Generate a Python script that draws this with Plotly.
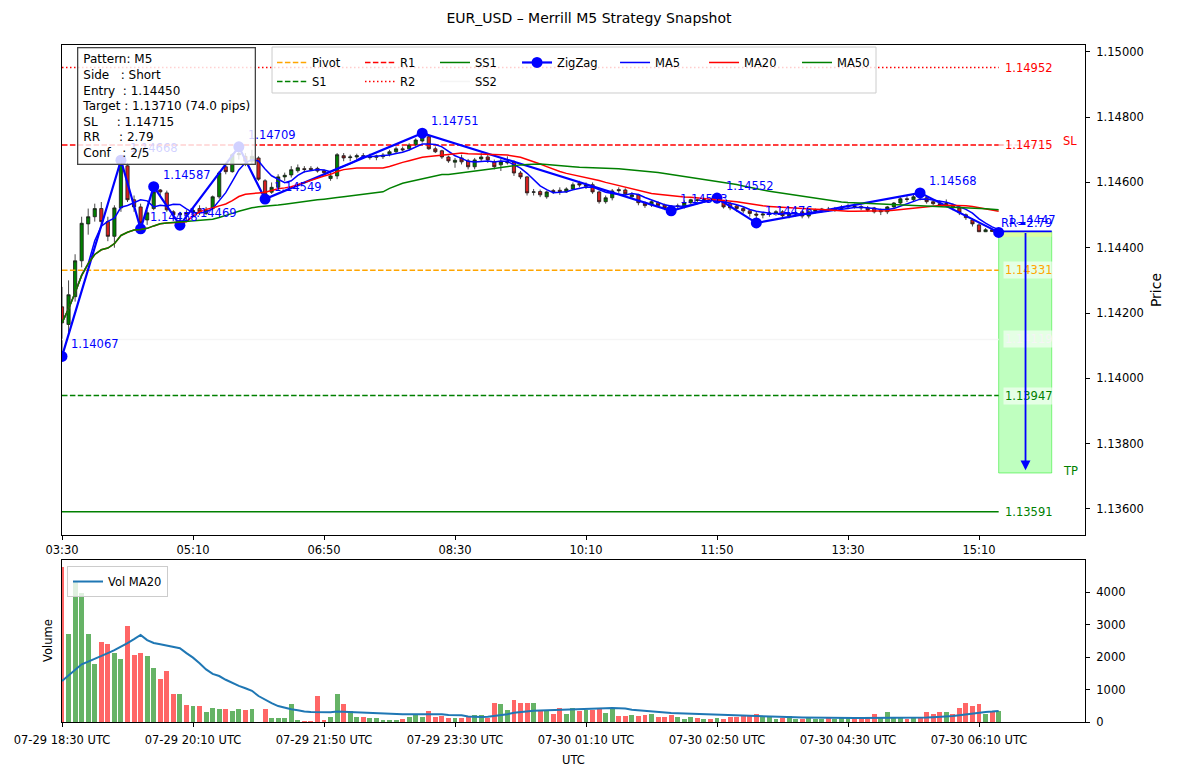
import pandas as pd
import plotly.graph_objects as go

# ---------------- data ----------------
local_start = "2025-07-30 03:30"   # top axis (local clock)
utc_start = "2025-07-29 18:30"     # volume axis (UTC)
n_bars = 144

opens = [1.14219, 1.14165, 1.14250, 1.14360, 1.14473, 1.14495, 1.14520, 1.14480, 1.14435, 1.14522,
         1.14651, 1.14547, 1.14525, 1.14485, 1.14520, 1.14577, 1.14568, 1.14510, 1.14501, 1.14508,
         1.14508, 1.14520, 1.14505, 1.14520, 1.14556, 1.14648, 1.14633, 1.14685, 1.14680, 1.14665,
         1.14675, 1.14605, 1.14570, 1.14585, 1.14617, 1.14623, 1.14636, 1.14642, 1.14643, 1.14643,
         1.14636, 1.14612, 1.14620, 1.14682, 1.14676, 1.14678, 1.14682, 1.14676, 1.14677, 1.14679,
         1.14686, 1.14694, 1.14703, 1.14703, 1.14715, 1.14727, 1.14740, 1.14703, 1.14697, 1.14678,
         1.14662, 1.14675, 1.14666, 1.14648, 1.14672, 1.14678, 1.14663, 1.14654, 1.14660, 1.14663,
         1.14629, 1.14617, 1.14570, 1.14572, 1.14556, 1.14575, 1.14576, 1.14571, 1.14580, 1.14597,
         1.14588, 1.14593, 1.14571, 1.14541, 1.14553, 1.14578, 1.14577, 1.14556, 1.14562, 1.14538,
         1.14531, 1.14538, 1.14531, 1.14527, 1.14526, 1.14525, 1.14538, 1.14547, 1.14545, 1.14548,
         1.14538, 1.14541, 1.14535, 1.14528, 1.14520, 1.14513, 1.14503, 1.14500, 1.14503, 1.14506,
         1.14510, 1.14498, 1.14503, 1.14510, 1.14497, 1.14512, 1.14515, 1.14518, 1.14516, 1.14520,
         1.14525, 1.14528, 1.14526, 1.14522, 1.14522, 1.14510, 1.14510, 1.14525, 1.14537, 1.14550,
         1.14547, 1.14556, 1.14553, 1.14541, 1.14535, 1.14532, 1.14531, 1.14522, 1.14501, 1.14485,
         1.14470, 1.14449, 1.14455, 1.14448]
highs = [1.14280, 1.14300, 1.14380, 1.14495, 1.14520, 1.14535, 1.14540, 1.14495, 1.14530, 1.14668,
         1.14660, 1.14560, 1.14535, 1.14515, 1.14587, 1.14580, 1.14575, 1.14515, 1.14510, 1.14515,
         1.14520, 1.14530, 1.14525, 1.14560, 1.14635, 1.14660, 1.14690, 1.14709, 1.14690, 1.14700,
         1.14680, 1.14610, 1.14600, 1.14625, 1.14630, 1.14650, 1.14655, 1.14650, 1.14650, 1.14648,
         1.14640, 1.14630, 1.14690, 1.14690, 1.14685, 1.14688, 1.14690, 1.14688, 1.14685, 1.14690,
         1.14700, 1.14710, 1.14710, 1.14720, 1.14735, 1.14751, 1.14745, 1.14710, 1.14700, 1.14682,
         1.14675, 1.14685, 1.14672, 1.14675, 1.14690, 1.14685, 1.14670, 1.14672, 1.14680, 1.14668,
         1.14635, 1.14620, 1.14580, 1.14578, 1.14575, 1.14580, 1.14585, 1.14585, 1.14600, 1.14605,
         1.14600, 1.14600, 1.14575, 1.14560, 1.14580, 1.14585, 1.14582, 1.14570, 1.14565, 1.14542,
         1.14545, 1.14542, 1.14535, 1.14530, 1.14535, 1.14545, 1.14550, 1.14550, 1.14550, 1.14550,
         1.14552, 1.14545, 1.14540, 1.14532, 1.14525, 1.14518, 1.14510, 1.14510, 1.14512, 1.14515,
         1.14515, 1.14508, 1.14512, 1.14515, 1.14515, 1.14520, 1.14522, 1.14525, 1.14525, 1.14530,
         1.14535, 1.14535, 1.14532, 1.14528, 1.14525, 1.14520, 1.14528, 1.14540, 1.14555, 1.14558,
         1.14565, 1.14568, 1.14558, 1.14545, 1.14545, 1.14548, 1.14535, 1.14525, 1.14505, 1.14490,
         1.14475, 1.14460, 1.14458, 1.14455]
lows = [1.14067, 1.14140, 1.14235, 1.14340, 1.14440, 1.14480, 1.14470, 1.14420, 1.14400, 1.14510,
        1.14540, 1.14510, 1.14458, 1.14470, 1.14515, 1.14560, 1.14510, 1.14490, 1.14469, 1.14485,
        1.14495, 1.14500, 1.14500, 1.14515, 1.14550, 1.14625, 1.14630, 1.14670, 1.14650, 1.14655,
        1.14605, 1.14549, 1.14565, 1.14580, 1.14605, 1.14615, 1.14630, 1.14630, 1.14635, 1.14630,
        1.14620, 1.14605, 1.14610, 1.14665, 1.14665, 1.14670, 1.14672, 1.14670, 1.14668, 1.14672,
        1.14680, 1.14690, 1.14695, 1.14698, 1.14710, 1.14722, 1.14700, 1.14690, 1.14672, 1.14660,
        1.14645, 1.14655, 1.14640, 1.14640, 1.14665, 1.14660, 1.14640, 1.14635, 1.14655, 1.14620,
        1.14610, 1.14560, 1.14560, 1.14555, 1.14550, 1.14565, 1.14562, 1.14568, 1.14577, 1.14585,
        1.14580, 1.14565, 1.14535, 1.14535, 1.14545, 1.14568, 1.14560, 1.14552, 1.14530, 1.14522,
        1.14525, 1.14525, 1.14515, 1.14513, 1.14518, 1.14520, 1.14533, 1.14540, 1.14538, 1.14540,
        1.14535, 1.14520, 1.14515, 1.14510, 1.14505, 1.14495, 1.14476, 1.14490, 1.14495, 1.14498,
        1.14492, 1.14490, 1.14495, 1.14490, 1.14490, 1.14505, 1.14508, 1.14510, 1.14510, 1.14515,
        1.14518, 1.14520, 1.14515, 1.14510, 1.14505, 1.14500, 1.14503, 1.14520, 1.14533, 1.14540,
        1.14542, 1.14545, 1.14535, 1.14530, 1.14528, 1.14525, 1.14515, 1.14500, 1.14485, 1.14465,
        1.14448, 1.14448, 1.14448, 1.14447]
closes = [1.14170, 1.14256, 1.14360, 1.14475, 1.14495, 1.14520, 1.14480, 1.14435, 1.14522, 1.14663,
          1.14547, 1.14525, 1.14476, 1.14507, 1.14571, 1.14571, 1.14516, 1.14501, 1.14505, 1.14503,
          1.14514, 1.14510, 1.14515, 1.14556, 1.14629, 1.14633, 1.14685, 1.14688, 1.14665, 1.14680,
          1.14610, 1.14562, 1.14585, 1.14617, 1.14622, 1.14639, 1.14645, 1.14640, 1.14640, 1.14635,
          1.14630, 1.14620, 1.14685, 1.14675, 1.14678, 1.14682, 1.14680, 1.14680, 1.14681, 1.14684,
          1.14694, 1.14703, 1.14700, 1.14715, 1.14730, 1.14740, 1.14703, 1.14694, 1.14678, 1.14666,
          1.14668, 1.14663, 1.14648, 1.14669, 1.14678, 1.14669, 1.14648, 1.14663, 1.14663, 1.14629,
          1.14617, 1.14568, 1.14571, 1.14562, 1.14571, 1.14572, 1.14572, 1.14580, 1.14593, 1.14592,
          1.14592, 1.14571, 1.14541, 1.14553, 1.14574, 1.14575, 1.14565, 1.14562, 1.14538, 1.14529,
          1.14541, 1.14529, 1.14522, 1.14520, 1.14528, 1.14538, 1.14547, 1.14545, 1.14548, 1.14544,
          1.14548, 1.14525, 1.14522, 1.14520, 1.14513, 1.14505, 1.14500, 1.14503, 1.14506, 1.14510,
          1.14498, 1.14503, 1.14505, 1.14497, 1.14510, 1.14515, 1.14518, 1.14516, 1.14520, 1.14525,
          1.14528, 1.14526, 1.14522, 1.14515, 1.14510, 1.14513, 1.14525, 1.14537, 1.14550, 1.14548,
          1.14556, 1.14553, 1.14541, 1.14535, 1.14532, 1.14535, 1.14522, 1.14507, 1.14492, 1.14473,
          1.14449, 1.14455, 1.14450, 1.14450]
volumes = [4770, 2700, 4320, 3980, 2700, 1775, 2470, 2390, 2135, 1930,
           2955, 2060, 2135, 2030, 1650, 1315, 1570, 850, 850, 515,
           485, 485, 300, 420, 390, 390, 340, 390, 370, 390,
           10, 390, 135, 135, 110, 545, 60, 30, 30, 810,
           60, 150, 850, 545, 340, 150, 150, 110, 110, 70,
           60, 60, 90, 150, 240, 150, 340, 150, 175, 120,
           110, 120, 150, 205, 205, 135, 575, 545, 370, 680,
           575, 575, 575, 340, 340, 240, 420, 240, 420, 340,
           370, 370, 420, 265, 420, 175, 175, 205, 175, 205,
           240, 150, 150, 205, 150, 90, 150, 110, 90, 90,
           120, 90, 150, 150, 195, 195, 240, 150, 195, 90,
           135, 175, 90, 90, 135, 90, 90, 135, 90, 135,
           135, 90, 135, 135, 260, 135, 300, 135, 135, 90,
           135, 150, 300, 240, 300, 300, 260, 445, 600, 480,
           560, 250, 340, 340]
vol_ma20 = [1260, 1430, 1600, 1775, 1860, 1940, 2030, 2120, 2210, 2310,
            2430, 2550, 2680, 2520, 2430, 2390, 2350, 2310, 2270, 2120,
            1980, 1810, 1620, 1480, 1415, 1300, 1200, 1110, 1040, 960,
            800, 680, 580, 490, 430, 390, 360, 320, 310, 310,
            295, 300, 320, 310, 300, 290, 275, 265, 255, 245,
            240, 235, 235, 235, 235, 240, 250, 255, 240, 215,
            205, 205, 170, 155, 155, 160, 180, 200, 240, 285,
            310, 330, 345, 350, 355, 360, 368, 378, 385, 392,
            400, 408, 415, 422, 428, 430, 415, 380, 360, 340,
            320, 300, 285, 275, 268, 260, 252, 244, 236, 228,
            218, 210, 205, 198, 192, 178, 175, 170, 165, 160,
            155, 150, 145, 140, 135, 130, 125, 120, 120, 120,
            120, 120, 120, 120, 120, 120, 120, 120, 120, 120,
            125, 130, 135, 145, 155, 165, 185, 210, 237, 265,
            290, 305, 320, 340]

zz_idx = [0, 9, 12, 14, 18, 27, 31, 55, 93, 100, 106, 131, 143]
zz_price = [1.14067, 1.14668, 1.14458, 1.14587, 1.14469, 1.14709, 1.14549,
            1.14751, 1.14513, 1.14552, 1.14476, 1.14568, 1.14447]

level_names = ["Pivot", "S1", "R1", "R2", "SS1", "SS2"]
level_values = [1.14331, 1.13947, 1.14715, 1.14952, 1.13591, 1.14119]

pattern = "M5"
side = "Short"
entry = 1.14450
target = 1.13710
stop = 1.14715
rr = 2.79
pips = 74.0
conf = "2/5"
symbol = "EUR_USD"

# ---------------- derived ----------------
t_loc = pd.date_range(local_start, periods=n_bars, freq="5min")
t_utc = pd.date_range(utc_start, periods=n_bars, freq="5min")
close_s = pd.Series(closes)
ma5 = close_s.rolling(5, min_periods=1).mean()
ma20 = close_s.rolling(20, min_periods=1).mean()
ma50 = close_s.rolling(50, min_periods=1).mean()

FONT = "DejaVu Sans"
FS = 11.5
span = pd.Timedelta(minutes=780.9)
x_range_loc = [t_loc[0], t_loc[0] + span]
x_range_utc = [t_utc[0], t_utc[0] + span]
t_last = t_loc[-1]
box_end = t_last + pd.Timedelta(minutes=40.5)
arrow_x = t_last + pd.Timedelta(minutes=20.5)
side_txt_x = t_last + pd.Timedelta(minutes=47.5)

level_style = {
    "Pivot": dict(color="orange", dash="5.5px,2.4px"),
    "S1": dict(color="green", dash="5.5px,2.4px"),
    "R1": dict(color="red", dash="5.5px,2.4px"),
    "R2": dict(color="red", dash="1.5px,2.5px"),
    "SS1": dict(color="green", dash="solid"),
    "SS2": dict(color="whitesmoke", dash="solid"),
}
level_legend = {"Pivot": "legend", "S1": "legend", "R1": "legend2", "R2": "legend2",
                "SS1": "legend3", "SS2": "legend3"}

fig = go.Figure()

fig.add_trace(go.Candlestick(
    x=t_loc, open=opens, high=highs, low=lows, close=closes,
    increasing=dict(fillcolor="green", line=dict(color="#1a1a1a", width=0.8)),
    decreasing=dict(fillcolor="#d62020", line=dict(color="#1a1a1a", width=0.8)),
    whiskerwidth=0, showlegend=False, xaxis="x", yaxis="y"))

order = ["Pivot", "S1", "R1", "R2", "SS1", "SS2"]
for name in order:
    v = level_values[level_names.index(name)]
    st = level_style[name]
    fig.add_trace(go.Scatter(
        x=[t_loc[0], t_last], y=[v, v], mode="lines", name=name,
        line=dict(color=st["color"], dash=st["dash"], width=1.5),
        legend=level_legend[name], xaxis="x", yaxis="y"))

fig.add_trace(go.Scatter(
    x=[t_loc[i] for i in zz_idx], y=zz_price, mode="lines+markers", name="ZigZag",
    line=dict(color="blue", width=2.2), marker=dict(color="blue", size=11),
    legend="legend4", xaxis="x", yaxis="y"))
fig.add_trace(go.Scatter(x=t_loc, y=ma5, mode="lines", name="MA5",
                         line=dict(color="blue", width=1.5), legend="legend5", xaxis="x", yaxis="y"))
fig.add_trace(go.Scatter(x=t_loc, y=ma20, mode="lines", name="MA20",
                         line=dict(color="red", width=1.5), legend="legend6", xaxis="x", yaxis="y"))
fig.add_trace(go.Scatter(x=t_loc, y=ma50, mode="lines", name="MA50",
                         line=dict(color="green", width=1.5), legend="legend7", xaxis="x", yaxis="y"))

# volume panel
vol_colors = ["rgba(0,128,0,0.6)" if c >= o else "rgba(255,0,0,0.6)" for o, c in zip(opens, closes)]
fig.add_trace(go.Bar(x=t_utc, y=volumes, marker=dict(color=vol_colors, line=dict(width=0)),
                     width=225000, showlegend=False, xaxis="x2", yaxis="y2"))
fig.add_trace(go.Scatter(x=t_utc, y=vol_ma20, mode="lines", name="Vol MA20",
                         line=dict(color="#1f77b4", width=2), legend="legend8", xaxis="x2", yaxis="y2"))

# ---------------- shapes ----------------
shapes = [
    dict(type="rect", xref="x", yref="y", x0=t_last, x1=box_end, y0=target, y1=entry,
         fillcolor="rgba(0,255,0,0.25)", line=dict(color="rgba(0,230,0,0.45)", width=1), layer="below"),
    dict(type="rect", xref="x", yref="y", x0=t_last, x1=box_end, y0=entry - 0.00016, y1=entry,
         fillcolor="rgba(255,255,120,0.45)", line=dict(width=0), layer="below"),
    dict(type="line", xref="x", yref="y", x0=t_last, x1=box_end, y0=stop, y1=stop,
         line=dict(color="rgba(255,0,0,0.35)", width=1.5, dash="5.5px,2.4px"), layer="above"),
    dict(type="line", xref="x", yref="y", x0=t_last, x1=box_end, y0=entry, y1=entry,
         line=dict(color="blue", width=1.8), layer="above"),
    dict(type="rect", xref="paper", yref="paper", x0=0.2053, x1=0.7957, y0=0.9291, y1=0.9970,
         fillcolor="rgba(255,255,255,0.8)", line=dict(color="#cccccc", width=1), layer="above"),
]

# ---------------- annotations ----------------
ann = []
for i, p in zip(zz_idx, zz_price):
    ann.append(dict(x=t_loc[i], y=p, xref="x", yref="y", text=f"{p:.5f}", showarrow=False,
                    xanchor="left", yanchor="middle", xshift=7, yshift=12,
                    font=dict(family=FONT, size=FS, color="blue")))
for name in order:
    v = level_values[level_names.index(name)]
    ann.append(dict(x=t_last, y=v, xref="x", yref="y", text=f"{v:.5f}", showarrow=False,
                    xanchor="left", yanchor="middle", xshift=4, bgcolor="rgba(255,255,255,0.6)",
                    borderpad=1, font=dict(family=FONT, size=FS, color=level_style[name]["color"])))
ann.append(dict(x=side_txt_x, y=stop, xref="x", yref="y", text="SL", showarrow=False,
                xanchor="left", yanchor="middle", yshift=4, font=dict(family=FONT, size=FS, color="red")))
ann.append(dict(x=side_txt_x, y=target, xref="x", yref="y", text="TP", showarrow=False,
                xanchor="left", yanchor="middle", yshift=2, font=dict(family=FONT, size=FS, color="green")))
ann.append(dict(x=t_last, y=entry, xref="x", yref="y", text=f"RR={rr:.2f}", showarrow=False,
                xanchor="left", yanchor="bottom", yshift=-1, font=dict(family=FONT, size=FS, color="blue")))
ann.append(dict(x=arrow_x, y=target + 0.00008, xref="x", yref="y", ax=arrow_x, ay=entry,
                axref="x", ayref="y", text="", showarrow=True, arrowhead=2, arrowsize=1.1,
                arrowwidth=1.8, arrowcolor="blue", standoff=0, startstandoff=0))

nb = "\u00a0"
info_lines = [
    f"Pattern: {pattern}",
    f"Side{nb*3}: {side}",
    f"Entry{nb*2}: {entry:.5f}",
    f"Target : {target:.5f} ({pips:.1f} pips)",
    f"SL{nb*5}: {stop:.5f}",
    f"RR{nb*5}: {rr:.2f}",
    f"Conf{nb*3}: {conf}",
]
ann.append(dict(x=0.0147, y=0.997, xref="paper", yref="paper", text="<br>".join(info_lines),
                showarrow=False, xanchor="left", yanchor="top", align="left",
                bgcolor="rgba(255,255,255,0.82)", bordercolor="#444444", borderwidth=1.3, borderpad=4,
                font=dict(family=FONT, size=12, color="black")))
ann.append(dict(x=-0.0137, y=0.121, xref="paper", yref="paper", text="Volume", showarrow=False,
                textangle=-90, xanchor="center", yanchor="middle",
                font=dict(family=FONT, size=FS, color="black")))

# ---------------- layout ----------------
axis_common = dict(showline=True, linecolor="black", linewidth=1, mirror=True, ticks="outside",
                   ticklen=4, tickcolor="black", showgrid=False, zeroline=False,
                   tickfont=dict(family=FONT, size=FS, color="black"))
leg_common = dict(bgcolor="rgba(0,0,0,0)", borderwidth=0, orientation="v", xanchor="left",
                  yanchor="top", tracegroupgap=0, font=dict(family=FONT, size=FS, color="black"))
legend_x = {"legend": 0.2053, "legend2": 0.2913, "legend3": 0.3646, "legend4": 0.4448,
            "legend5": 0.5406, "legend6": 0.6276, "legend7": 0.7185}

layout = dict(
    width=1178, height=777,
    margin=dict(l=62, r=93, t=45, b=55),
    paper_bgcolor="white", plot_bgcolor="white",
    font=dict(family=FONT, size=FS, color="black"),
    title=dict(text=f"{symbol} – Merrill M5 Strategy Snapshot", x=0.5, xref="container",
               y=1 - 18 / 777, yref="container", xanchor="center", yanchor="middle",
               font=dict(family=FONT, size=14, color="black")),
    xaxis=dict(axis_common, domain=[0, 1], anchor="y", range=x_range_loc, tick0=t_loc[0],
               dtick=100 * 60 * 1000, tickformat="%H:%M", rangeslider=dict(visible=False), type="date"),
    yaxis=dict(axis_common, domain=[0.2762, 1], anchor="x", side="right", range=[1.13520, 1.15021],
               tick0=1.136, dtick=0.002, tickformat=".5f", ticklabelstandoff=4,
               title=dict(text="Price", standoff=8, font=dict(family=FONT, size=14, color="black"))),
    xaxis2=dict(axis_common, domain=[0, 1], anchor="y2", range=x_range_utc, tick0=t_utc[0],
                dtick=100 * 60 * 1000, tickformat="%m-%d %H:%M UTC", type="date", ticklabelstandoff=3,
                title=dict(text="UTC", standoff=10, font=dict(family=FONT, size=FS, color="black"))),
    yaxis2=dict(axis_common, domain=[0, 0.2393], anchor="x2", side="right", range=[0, 4985],
                tick0=0, dtick=1000, ticklabelstandoff=4),
    bargap=0,
    shapes=shapes,
    annotations=ann,
    showlegend=True,
)
for k, xv in legend_x.items():
    layout[k] = dict(leg_common, x=xv, y=0.9956)
layout["legend8"] = dict(leg_common, x=0.0049, y=0.2304, bgcolor="rgba(255,255,255,0.8)",
                         bordercolor="#cccccc", borderwidth=1)
fig.update_layout(**layout)

fig.write_html("out.html")
